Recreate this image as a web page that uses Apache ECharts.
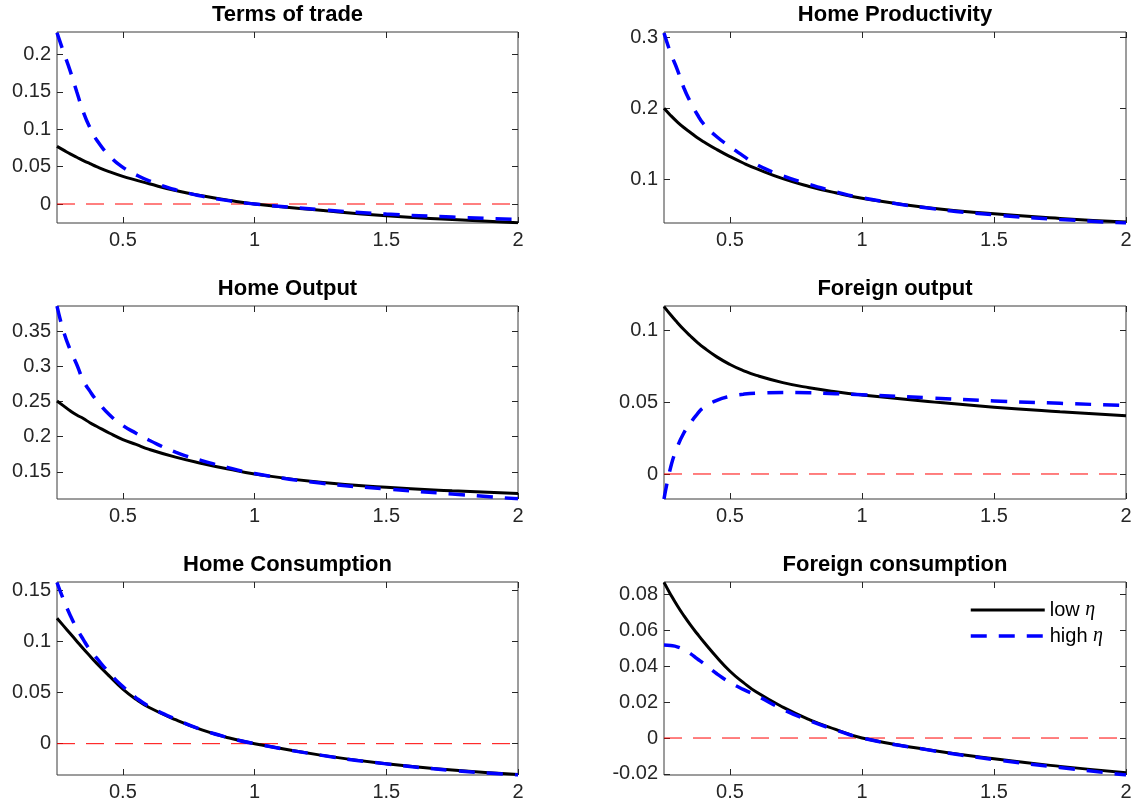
<!DOCTYPE html>
<html>
<head>
<meta charset="utf-8">
<script src="https://cdn.jsdelivr.net/npm/echarts@6/dist/echarts.min.js"></script>
<style>
  html, body { margin: 0; padding: 0; background: #fff; }
  #main { width: 1137px; height: 807px; }
</style>
</head>
<body>
<div id="main"></div>
<script>
  // x grid shared by every panel
  var eta = [0.25, 0.275, 0.3, 0.325, 0.35, 0.375, 0.4, 0.45, 0.5, 0.55, 0.6, 0.7, 0.8, 0.9, 1.0, 1.25, 1.5, 1.75, 2.0];
  var xRange = [0.25, 2];
  var xTicks = [0.5, 1, 1.5, 2];

  // Terms of trade
  var totLow  = [0.077, 0.072, 0.067, 0.0625, 0.058, 0.054, 0.050, 0.043, 0.037, 0.032, 0.027, 0.018, 0.011, 0.005, 0, -0.0085, -0.0158, -0.0208, -0.025];
  var totHigh = [0.229, 0.203, 0.178, 0.150, 0.123, 0.102, 0.086, 0.064, 0.049, 0.039, 0.031, 0.019, 0.0105, 0.0045, 0, -0.0075, -0.0135, -0.0175, -0.0208];
  // Home productivity
  var prodLow  = [0.200, 0.190, 0.181, 0.173, 0.166, 0.159, 0.153, 0.142, 0.132, 0.123, 0.115, 0.101, 0.090, 0.081, 0.0735, 0.060, 0.0515, 0.045, 0.040];
  var prodHigh = [0.306, 0.278, 0.255, 0.229, 0.209, 0.192, 0.178, 0.160, 0.146, 0.133, 0.121, 0.105, 0.093, 0.0825, 0.074, 0.0595, 0.050, 0.0435, 0.0385];
  // Home output
  var yhLow  = [0.251, 0.244, 0.237, 0.231, 0.226, 0.220, 0.215, 0.205, 0.196, 0.189, 0.182, 0.171, 0.162, 0.154, 0.147, 0.135, 0.128, 0.123, 0.119];
  var yhHigh = [0.386, 0.350, 0.324, 0.303, 0.280, 0.265, 0.252, 0.231, 0.216, 0.205, 0.195, 0.178, 0.166, 0.156, 0.1475, 0.134, 0.1255, 0.1185, 0.1115];
  // Foreign output
  var yfLow  = [0.1165, 0.1108, 0.1055, 0.1005, 0.0960, 0.0918, 0.0880, 0.0815, 0.0762, 0.0720, 0.0686, 0.0636, 0.0600, 0.0572, 0.0550, 0.0505, 0.0465, 0.0433, 0.0405];
  var yfHigh = [-0.0174, 0.0045, 0.0185, 0.0285, 0.0355, 0.0415, 0.0462, 0.0512, 0.054, 0.0555, 0.0563, 0.0567, 0.0565, 0.0559, 0.0551, 0.053, 0.0508, 0.0492, 0.0476];
  // Home consumption
  var chLow  = [0.123, 0.1155, 0.108, 0.1005, 0.093, 0.086, 0.079, 0.066, 0.0535, 0.0435, 0.0355, 0.0235, 0.0135, 0.0058, 0, -0.0112, -0.0197, -0.0258, -0.0303];
  var chHigh = [0.158, 0.141, 0.126, 0.113, 0.102, 0.092, 0.084, 0.069, 0.056, 0.045, 0.0365, 0.024, 0.0137, 0.006, 0, -0.0112, -0.0198, -0.0262, -0.0307];
  // Foreign consumption
  var cfLow  = [0.0867, 0.0800, 0.0738, 0.0682, 0.0630, 0.0582, 0.0536, 0.0450, 0.0372, 0.0310, 0.0256, 0.0172, 0.0103, 0.0048, 0, -0.0065, -0.0116, -0.0158, -0.0193];
  var cfHigh = [0.0518, 0.0515, 0.0508, 0.0492, 0.047, 0.0442, 0.0415, 0.0358, 0.031, 0.0271, 0.0237, 0.0160, 0.0097, 0.0045, 0, -0.0066, -0.012, -0.0164, -0.0206];

  var titles = ['Terms of trade', 'Home Productivity', 'Home Output', 'Foreign output', 'Home Consumption', 'Foreign consumption'];
  var lowSets  = [totLow, prodLow, yhLow, yfLow, chLow, cfLow];
  var highSets = [totHigh, prodHigh, yhHigh, yfHigh, chHigh, cfHigh];
  var yMins = [-0.0254, 0.0385, 0.1113, -0.0174, -0.0307, -0.0206];
  var yMaxs = [0.2300, 0.3075, 0.3863, 0.1169, 0.1585, 0.0869];
  var yTicks = [
    [0, 0.05, 0.1, 0.15, 0.2],
    [0.1, 0.2, 0.3],
    [0.15, 0.2, 0.25, 0.3, 0.35],
    [0, 0.05, 0.1],
    [0, 0.05, 0.1, 0.15],
    [-0.02, 0, 0.02, 0.04, 0.06, 0.08]
  ];
  var seriesNames = ['low η', 'high η'];

  var chart = echarts.init(document.getElementById('main'));

  var colLeft = [57, 664], colWidth = [461, 462];
  var rowTop = [32, 306, 582], rowHeight = [191, 193, 193];
  var titleTop = [4, 278, 554];
  var font = 'Liberation Sans, Arial, sans-serif';
  var axisColor = '#262626';
  var lowStyle = { color: '#000', width: 3 };
  var highStyle = { color: '#0000ff', width: 3.5, type: [16, 12] };

  function pair(xs, ys) {
    return xs.map(function (x, i) { return [x, ys[i]]; });
  }

  var grid = [], xAxis = [], yAxis = [], series = [], title = [];

  for (var p = 0; p < 6; p++) {
    var c = p % 2, r = Math.floor(p / 2);
    grid.push({
      left: colLeft[c], top: rowTop[r], width: colWidth[c], height: rowHeight[r],
      show: true, borderColor: '#3a3a3a', borderWidth: 1, backgroundColor: 'transparent'
    });
    title.push({
      text: titles[p], left: colLeft[c] + colWidth[c] / 2, top: titleTop[r], textAlign: 'center', padding: 0,
      textStyle: { fontFamily: font, fontSize: 22, fontWeight: 'bold', color: '#000' }
    });
    // bottom and top x axes (top one only carries the mirrored ticks)
    ['bottom', 'top'].forEach(function (pos) {
      xAxis.push({
        type: 'value', gridIndex: p, position: pos, min: xRange[0], max: xRange[1],
        axisLine: { show: false, onZero: false },
        splitLine: { show: false },
        axisTick: { show: true, inside: true, length: 6, customValues: xTicks, lineStyle: { color: axisColor } },
        axisLabel: {
          show: pos === 'bottom', customValues: xTicks, margin: 7,
          fontFamily: font, fontSize: 20, color: axisColor
        }
      });
    });
    ['left', 'right'].forEach(function (pos) {
      yAxis.push({
        type: 'value', gridIndex: p, position: pos, min: yMins[p], max: yMaxs[p],
        axisLine: { show: false, onZero: false },
        splitLine: { show: false },
        axisTick: { show: true, inside: true, length: 6, customValues: yTicks[p], lineStyle: { color: axisColor } },
        axisLabel: {
          show: pos === 'left', customValues: yTicks[p], margin: 6,
          fontFamily: font, fontSize: 20, color: axisColor
        }
      });
    });

    if (yMins[p] < 0 && yMaxs[p] > 0) {
      series.push({
        type: 'line', name: 'zero', xAxisIndex: 2 * p, yAxisIndex: 2 * p,
        data: [[xRange[0], 0], [xRange[1], 0]],
        symbol: 'none', silent: true, z: 1,
        lineStyle: { color: '#ff0000', width: 1, type: [18, 11] }
      });
    }
    series.push({
      type: 'line', name: seriesNames[0], xAxisIndex: 2 * p, yAxisIndex: 2 * p,
      data: pair(eta, lowSets[p]), symbol: 'none', smooth: 0.5, z: 2,
      lineStyle: lowStyle, itemStyle: { color: '#000' }
    });
    series.push({
      type: 'line', name: seriesNames[1], xAxisIndex: 2 * p, yAxisIndex: 2 * p,
      data: pair(eta, highSets[p]), symbol: 'none', smooth: 0.5, z: 3,
      lineStyle: highStyle, itemStyle: { color: '#0000ff' }
    });
  }

  var option = {
    animation: false,
    backgroundColor: '#fff',
    title: title,
    grid: grid,
    xAxis: xAxis,
    yAxis: yAxis,
    legend: {
      data: [
        { name: seriesNames[0], lineStyle: lowStyle },
        { name: seriesNames[1], lineStyle: highStyle }
      ],
      orient: 'vertical', left: 969, top: 600,
      itemWidth: 74, itemHeight: 14, itemGap: 6, padding: 0,
      itemStyle: { opacity: 0, borderWidth: 0 },
      formatter: function (name) {
        var parts = name.split(' ');
        return parts[0] + ' {e|' + parts[1] + '}';
      },
      textStyle: {
        fontFamily: font, fontSize: 20, color: '#000',
        rich: { e: { fontFamily: 'Liberation Serif, DejaVu Serif, serif', fontStyle: 'italic', fontSize: 20, color: '#000' } }
      }
    },
    series: series
  };

  chart.setOption(option);
</script>
</body>
</html>
